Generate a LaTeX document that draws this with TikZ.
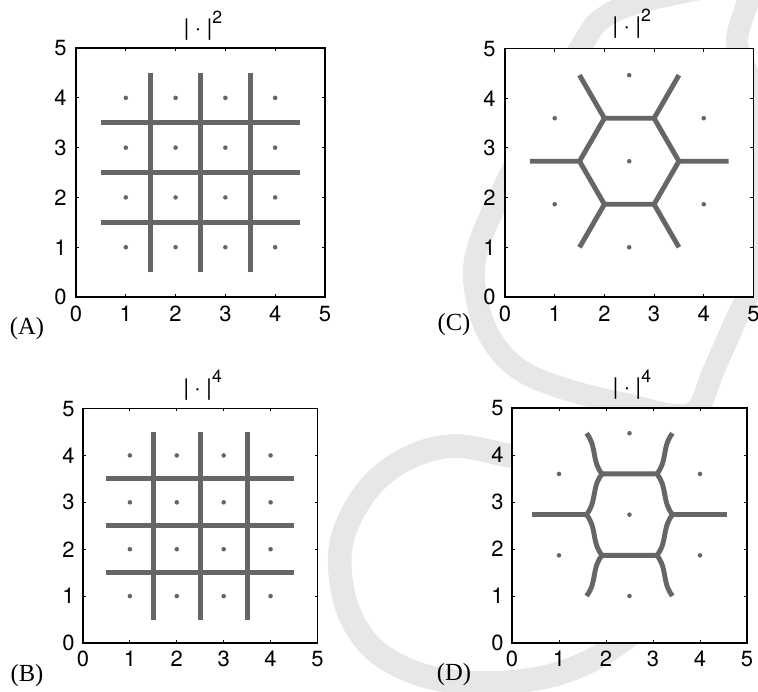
\documentclass[tikz,border=0pt]{standalone}
\usepackage{fontspec}
\setmainfont{TeX Gyre Heros}
\newfontfamily\panelfont{Liberation Serif}
\definecolor{wmark}{RGB}{230,231,232}
\definecolor{cellgray}{RGB}{102,102,102}
\tikzset{
  wm/.style={wmark,line width=12.5pt,line cap=round},
  box/.style={draw=black,line width=0.8pt,fill=white},
  tic/.style={line width=0.5pt},
  cell/.style={cellgray,line width=2.8pt},
  site/.style={fill=cellgray},
  ticklab/.style={font=\fontsize{12.5}{13}\selectfont,inner sep=0pt},
  ttl/.style={font=\fontsize{13}{14}\selectfont,inner sep=0pt},
  plab/.style={font=\panelfont\fontsize{14}{15}\selectfont,inner sep=0pt},
}
% frame, ticks and tick labels of one panel (unit square 0..5)
\newcommand{\axesbox}{%
  \draw[box] (0,0) rectangle (5,5);
  \foreach \t in {1,...,4}{
    \draw[tic] (\t,0)--(\t,0.06) (\t,5)--(\t,4.94) (0,\t)--(0.06,\t) (5,\t)--(4.94,\t);
  }
  \foreach \t in {0,...,5}{
    \node[ticklab] at (\t,-0.34) {\t};
    \node[ticklab] at (-0.31,\t) {\t};
  }
}
\newcommand{\nrm}[1]{|\kern3pt·\kern3pt|\raisebox{7pt}{\fontsize{10}{10}\selectfont #1}}
\begin{document}
\begin{tikzpicture}[x=0.02cm,y=-0.02cm,
  declare function={qv(\v)=(3.4641*(\v)*(\v)*(\v)+0.6495*(\v))/6;
    wv(\v)=pow(sqrt(qv(\v)*qv(\v)/4+0.0065918)+qv(\v)/2,1/3)-pow(sqrt(qv(\v)*qv(\v)/4+0.0065918)-qv(\v)/2,1/3);}]
\useasboundingbox (0,0) rectangle (758,691);
% background mark
\begin{scope}
\clip (0,0) rectangle (758,691);
\draw[wm] plot[smooth,tension=0.6] coordinates {(720,-15) (640,2) (603,18) (585,40) (545,110) (505,185) (476,255) (478,305) (495,345) (525,373) (575,392) (630,405) (675,415) (698,408) (713,372) (735,322) (752,283) (762,220) (762,130) (748,75) (737,43) (745,10) (755,-15)};
\draw[wm,line width=13.5pt] plot[smooth,tension=0.6] coordinates {(560,462) (512,456) (455,446) (408,458) (370,487) (345,530) (340,570) (350,615) (377,652) (425,676) (485,683) (545,677) (592,660) (630,635)};
\end{scope}

% (A) square cells, |.|^2
\begin{scope}[shift={(76,297)},x=0.996cm,y=0.996cm]
  \axesbox
  \foreach \k in {1.5,2.5,3.5}{
    \draw[cell] (\k,0.5)--(\k,4.5);
    \draw[cell] (0.5,\k)--(4.5,\k);
  }
  \foreach \i in {1,...,4}
    \foreach \j in {1,...,4}
      \fill[site] (\i,\j) circle (1.3pt);
  \node[ttl] (ttlA) at (2.55,5.45) {\nrm{2}};
\end{scope}

% (B) square cells, |.|^4
\begin{scope}[shift={(83,643)},x=0.938cm,y=0.938cm]
  \axesbox
  \foreach \k in {1.5,2.5,3.5}{
    \draw[cell] (\k,0.5)--(\k,4.5);
    \draw[cell] (0.5,\k)--(4.5,\k);
  }
  \foreach \i in {1,...,4}
    \foreach \j in {1,...,4}
      \fill[site] (\i,\j) circle (1.3pt);
  \node[ttl] (ttlB) at (2.55,5.5) {\nrm{4}};
\end{scope}

% (C) hexagonal cell, |.|^2
\begin{scope}[shift={(505,297)},x=0.994cm,y=0.994cm]
  \axesbox
  \draw[cell] (1.5,2.732)--(2,3.598)--(3,3.598)--(3.5,2.732)--(3,1.866)--(2,1.866)--cycle;
  \draw[cell] (1.5,2.732)--(0.5,2.732) (3.5,2.732)--(4.5,2.732)
    (2,3.598)--(1.5,4.464) (3,3.598)--(3.5,4.464)
    (2,1.866)--(1.5,1) (3,1.866)--(3.5,1);
  \foreach \p in {(2.5,2.732),(2.5,4.464),(2.5,1),(1,3.598),(4,3.598),(1,1.866),(4,1.866)}
    \fill[site] \p circle (1.3pt);
  \node[ttl] (ttlC) at (2.55,5.5) {\nrm{2}};
\end{scope}

% (D) hexagonal cell, |.|^4
\begin{scope}[shift={(512,643)},x=0.94cm,y=0.94cm]
  \axesbox
  \draw[cell,line join=round] plot[domain=-0.433:0.433,samples=25,smooth] ({1.75+wv(\x)},{3.165+(\x)})
    -- (3.091,3.598)
    -- plot[domain=-0.433:0.433,samples=25,smooth] ({3.25+wv(\x)},{3.165-(\x)})
    -- plot[domain=-0.433:0.433,samples=25,smooth] ({3.25-wv(\x)},{2.299-(\x)})
    -- (1.909,1.866)
    -- plot[domain=-0.433:0.433,samples=25,smooth] ({1.75-wv(\x)},{2.299+(\x)})
    -- cycle;
  \draw[cell] plot[domain=-0.433:0.433,samples=25,smooth] ({1.75-wv(\x)},{4.031+(\x)});
  \draw[cell] plot[domain=-0.433:0.433,samples=25,smooth] ({3.25+wv(\x)},{4.031+(\x)});
  \draw[cell] plot[domain=-0.433:0.433,samples=25,smooth] ({1.75-wv(\x)},{1.433-(\x)});
  \draw[cell] plot[domain=-0.433:0.433,samples=25,smooth] ({3.25+wv(\x)},{1.433-(\x)});
  \draw[cell] (0.42,2.732)--(1.591,2.732) (3.409,2.732)--(4.58,2.732);
  \foreach \p in {(2.5,2.732),(2.5,4.464),(2.5,1),(1,3.598),(4,3.598),(1,1.866),(4,1.866)}
    \fill[site] \p circle (1.3pt);
  \node[ttl] (ttlD) at (2.55,5.5) {\nrm{4}};
\end{scope}

% panel letters
\node[plab] (labA) at (27,329) {(A)};
\node[plab] (labB) at (27,676) {(B)};
\node[plab] (labC) at (454,325) {(C)};
\node[plab] (labD) at (454,675) {(D)};
\end{tikzpicture}
\end{document}
